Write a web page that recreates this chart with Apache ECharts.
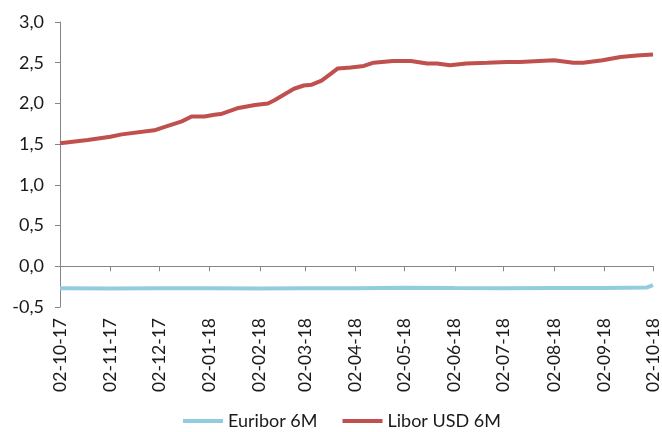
<!DOCTYPE html>
<html>
<head>
<meta charset="utf-8">
<script src="https://cdn.jsdelivr.net/npm/echarts@6/dist/echarts.min.js"></script>
<style>
	html, body { margin: 0; padding: 0; background: #fff; }
	#chart { width: 662px; height: 432px; }
</style>
</head>
<body>
<div id="chart"></div>
<script>
	// tick positions (2nd of each month) and their labels
	var tickDates = ['2017-10-02', '2017-11-02', '2017-12-02', '2018-01-02', '2018-02-02', '2018-03-02',
		'2018-04-02', '2018-05-02', '2018-06-02', '2018-07-02', '2018-08-02', '2018-09-02', '2018-10-02'];
	var tickLabels = ['02-10-17', '02-11-17', '02-12-17', '02-01-18', '02-02-18', '02-03-18',
		'02-04-18', '02-05-18', '02-06-18', '02-07-18', '02-08-18', '02-09-18', '02-10-18'];

	// Libor USD 6M
	var liborDates = ['2017-10-02', '2017-10-19', '2017-11-02', '2017-11-09', '2017-11-29', '2017-12-05',
		'2017-12-16', '2017-12-22', '2017-12-30', '2018-01-05', '2018-01-09', '2018-01-19', '2018-01-30',
		'2018-02-07', '2018-02-11', '2018-02-17', '2018-02-23', '2018-03-01', '2018-03-06', '2018-03-12',
		'2018-03-18', '2018-03-22', '2018-03-30', '2018-04-07', '2018-04-13', '2018-04-25', '2018-05-06',
		'2018-05-16', '2018-05-22', '2018-05-30', '2018-06-09', '2018-06-22', '2018-07-04', '2018-07-12',
		'2018-08-02', '2018-08-14', '2018-08-20', '2018-09-01', '2018-09-12', '2018-09-22', '2018-10-02'];
	var liborValues = [1.51, 1.55, 1.59, 1.62, 1.67, 1.71,
		1.78, 1.84, 1.84, 1.86, 1.87, 1.94, 1.98,
		2.00, 2.04, 2.11, 2.18, 2.22, 2.23, 2.28,
		2.37, 2.43, 2.44, 2.46, 2.50, 2.52, 2.52,
		2.49, 2.49, 2.47, 2.49, 2.50, 2.51, 2.51,
		2.53, 2.50, 2.50, 2.53, 2.57, 2.59, 2.60];

	// Euribor 6M
	var euriborDates = ['2017-10-02', '2017-11-02', '2017-12-02', '2018-01-02', '2018-02-02', '2018-03-02',
		'2018-04-02', '2018-05-02', '2018-06-02', '2018-07-02', '2018-08-02', '2018-09-02', '2018-09-28', '2018-10-02'];
	var euriborValues = [-0.27, -0.273, -0.27, -0.27, -0.274, -0.27,
		-0.27, -0.265, -0.268, -0.27, -0.266, -0.268, -0.262, -0.232];

	function ts(s) {
		var p = s.split('-');
		return Date.UTC(+p[0], +p[1] - 1, +p[2]);
	}
	function pairs(dates, values) {
		return dates.map(function (d, i) { return [ts(d), values[i]]; });
	}
	var tickTs = tickDates.map(ts);

	var chart = echarts.init(document.getElementById('chart'));
	var font = 'Lato, "Open Sans", sans-serif';
	var option = {
		animation: false,
		textStyle: { fontFamily: font },
		grid: { left: 60, right: 7, top: 22, bottom: 125 },
		legend: {
			top: 412,
			left: 183,
			padding: 0,
			icon: 'rect',
			itemWidth: 40,
			itemHeight: 4,
			itemGap: 25,
			textStyle: { fontSize: 18, color: '#1a1a1a', fontFamily: font },
			data: ['Euribor 6M', 'Libor USD 6M']
		},
		xAxis: [{
			type: 'value',
			min: tickTs[0],
			max: tickTs[tickTs.length - 1],
			position: 'bottom',
			axisLine: { onZero: true, lineStyle: { color: '#868686', width: 1 } },
			axisTick: { show: true, length: 5, customValues: tickTs, lineStyle: { color: '#868686' } },
			axisLabel: { show: false },
			splitLine: { show: false }
		}, {
			type: 'value',
			min: tickTs[0],
			max: tickTs[tickTs.length - 1],
			position: 'bottom',
			axisLine: { show: false, onZero: false },
			axisTick: { show: false },
			splitLine: { show: false },
			axisLabel: {
				customValues: tickTs,
				rotate: 90,
				margin: 11,
				fontSize: 17.5,
				color: '#1a1a1a',
				fontFamily: font,
				formatter: function (v) {
					var i = tickTs.indexOf(v);
					return i >= 0 ? tickLabels[i] : '';
				}
			}
		}],
		yAxis: {
			type: 'value',
			min: -0.5,
			max: 3,
			interval: 0.5,
			axisLine: { show: true, lineStyle: { color: '#868686', width: 1 } },
			axisTick: { show: true, length: 5, lineStyle: { color: '#868686' } },
			splitLine: { show: false },
			axisLabel: {
				fontSize: 18,
				color: '#1a1a1a',
				margin: 16,
				fontFamily: font,
				formatter: function (v) { return v.toFixed(1).replace('.', ','); }
			}
		},
		series: [{
			name: 'Euribor 6M',
			type: 'line',
			xAxisIndex: 0,
			showSymbol: false,
			data: pairs(euriborDates, euriborValues),
			lineStyle: { width: 4, color: '#93CDDD' },
			itemStyle: { color: '#93CDDD' }
		}, {
			name: 'Libor USD 6M',
			type: 'line',
			xAxisIndex: 0,
			showSymbol: false,
			data: pairs(liborDates, liborValues),
			lineStyle: { width: 4, color: '#C0504D' },
			itemStyle: { color: '#C0504D' }
		}]
	};
	chart.setOption(option);
</script>
</body>
</html>
